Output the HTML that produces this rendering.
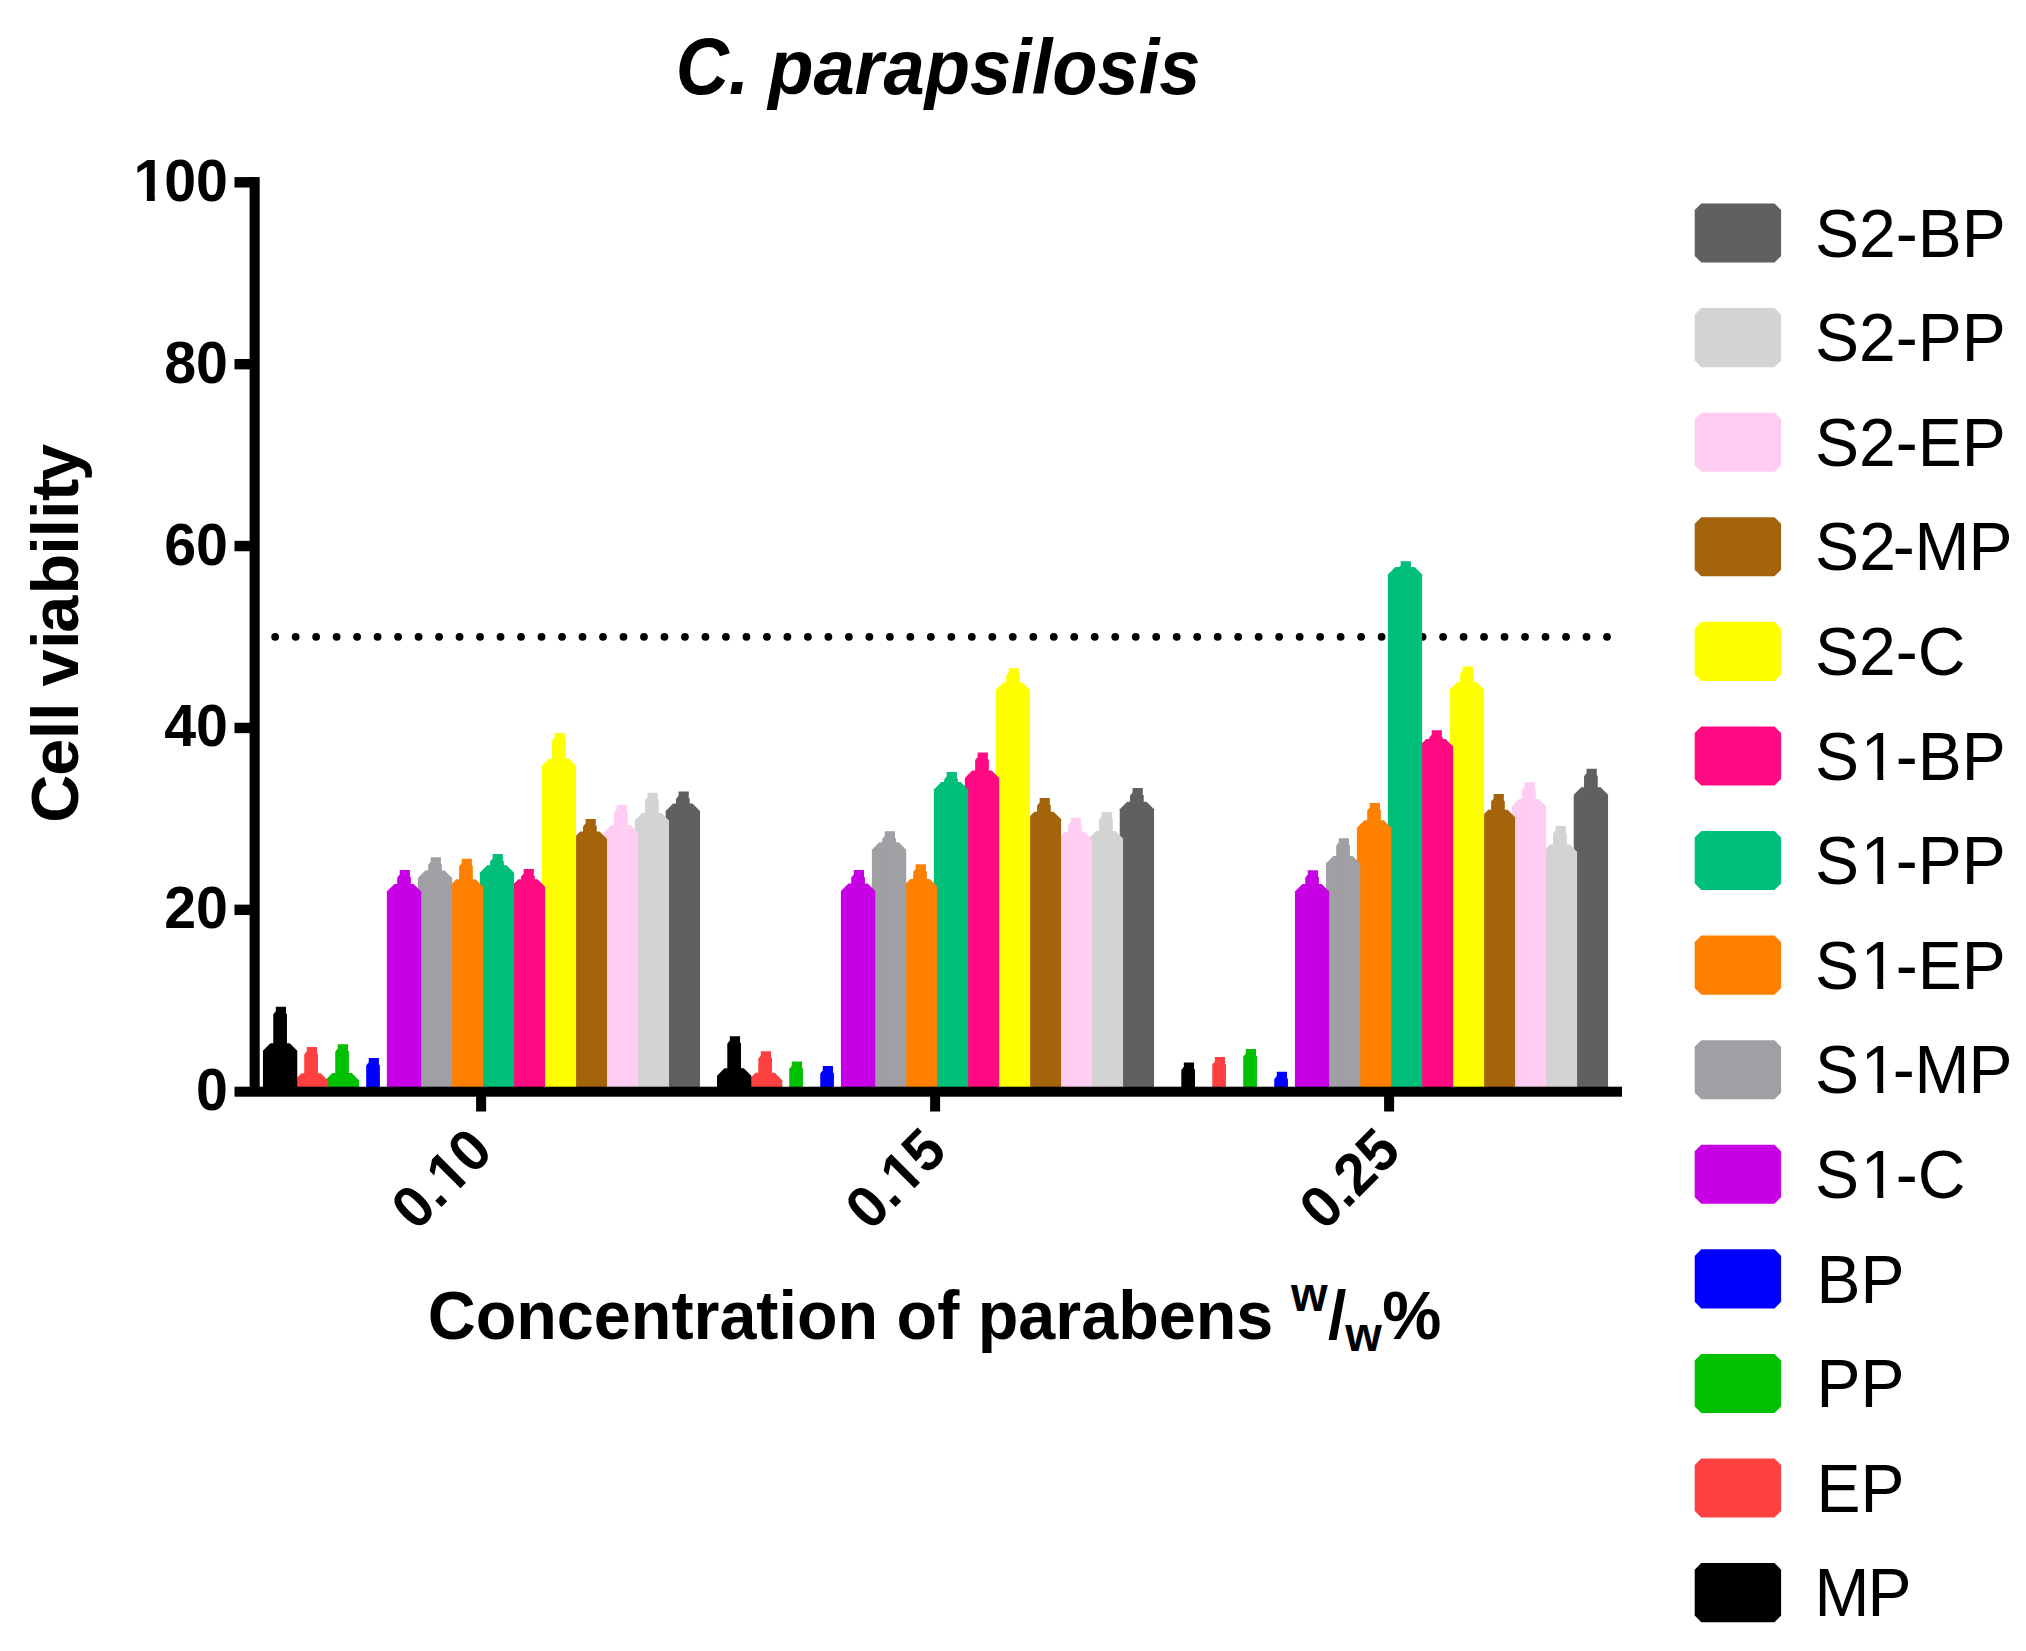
<!DOCTYPE html>
<html lang="en"><head><meta charset="utf-8"><title>C. parapsilosis</title>
<style>html,body{margin:0;padding:0;background:#fff}body{width:2026px;height:1651px;overflow:hidden}svg{display:block}text{font-family:"Liberation Sans",sans-serif;fill:#000}.b{font-weight:bold}</style></head><body>
<svg width="2026" height="1651" viewBox="0 0 2026 1651">
<rect width="2026" height="1651" fill="#fff"/>
<g fill="#000">
<circle cx="275.15" cy="636.8" r="3.9"/>
<circle cx="295.64" cy="636.8" r="3.9"/>
<circle cx="316.13" cy="636.8" r="3.9"/>
<circle cx="336.62" cy="636.8" r="3.9"/>
<circle cx="357.11" cy="636.8" r="3.9"/>
<circle cx="377.6" cy="636.8" r="3.9"/>
<circle cx="398.09" cy="636.8" r="3.9"/>
<circle cx="418.58" cy="636.8" r="3.9"/>
<circle cx="439.07" cy="636.8" r="3.9"/>
<circle cx="459.56" cy="636.8" r="3.9"/>
<circle cx="480.05" cy="636.8" r="3.9"/>
<circle cx="500.54" cy="636.8" r="3.9"/>
<circle cx="521.03" cy="636.8" r="3.9"/>
<circle cx="541.52" cy="636.8" r="3.9"/>
<circle cx="562.01" cy="636.8" r="3.9"/>
<circle cx="582.5" cy="636.8" r="3.9"/>
<circle cx="602.99" cy="636.8" r="3.9"/>
<circle cx="623.48" cy="636.8" r="3.9"/>
<circle cx="643.97" cy="636.8" r="3.9"/>
<circle cx="664.46" cy="636.8" r="3.9"/>
<circle cx="684.95" cy="636.8" r="3.9"/>
<circle cx="705.44" cy="636.8" r="3.9"/>
<circle cx="725.93" cy="636.8" r="3.9"/>
<circle cx="746.42" cy="636.8" r="3.9"/>
<circle cx="766.91" cy="636.8" r="3.9"/>
<circle cx="787.4" cy="636.8" r="3.9"/>
<circle cx="807.89" cy="636.8" r="3.9"/>
<circle cx="828.38" cy="636.8" r="3.9"/>
<circle cx="848.87" cy="636.8" r="3.9"/>
<circle cx="869.36" cy="636.8" r="3.9"/>
<circle cx="889.85" cy="636.8" r="3.9"/>
<circle cx="910.34" cy="636.8" r="3.9"/>
<circle cx="930.83" cy="636.8" r="3.9"/>
<circle cx="951.32" cy="636.8" r="3.9"/>
<circle cx="971.81" cy="636.8" r="3.9"/>
<circle cx="992.3" cy="636.8" r="3.9"/>
<circle cx="1012.79" cy="636.8" r="3.9"/>
<circle cx="1033.28" cy="636.8" r="3.9"/>
<circle cx="1053.77" cy="636.8" r="3.9"/>
<circle cx="1074.26" cy="636.8" r="3.9"/>
<circle cx="1094.75" cy="636.8" r="3.9"/>
<circle cx="1115.24" cy="636.8" r="3.9"/>
<circle cx="1135.73" cy="636.8" r="3.9"/>
<circle cx="1156.22" cy="636.8" r="3.9"/>
<circle cx="1176.71" cy="636.8" r="3.9"/>
<circle cx="1197.2" cy="636.8" r="3.9"/>
<circle cx="1217.69" cy="636.8" r="3.9"/>
<circle cx="1238.18" cy="636.8" r="3.9"/>
<circle cx="1258.67" cy="636.8" r="3.9"/>
<circle cx="1279.16" cy="636.8" r="3.9"/>
<circle cx="1299.65" cy="636.8" r="3.9"/>
<circle cx="1320.14" cy="636.8" r="3.9"/>
<circle cx="1340.63" cy="636.8" r="3.9"/>
<circle cx="1361.12" cy="636.8" r="3.9"/>
<circle cx="1381.61" cy="636.8" r="3.9"/>
<circle cx="1402.1" cy="636.8" r="3.9"/>
<circle cx="1422.59" cy="636.8" r="3.9"/>
<circle cx="1443.08" cy="636.8" r="3.9"/>
<circle cx="1463.57" cy="636.8" r="3.9"/>
<circle cx="1484.06" cy="636.8" r="3.9"/>
<circle cx="1504.55" cy="636.8" r="3.9"/>
<circle cx="1525.04" cy="636.8" r="3.9"/>
<circle cx="1545.53" cy="636.8" r="3.9"/>
<circle cx="1566.02" cy="636.8" r="3.9"/>
<circle cx="1586.51" cy="636.8" r="3.9"/>
<circle cx="1607" cy="636.8" r="3.9"/>
</g>
<g>
<polygon fill="#606060" points="665.69,1091 665.69,811.1 673.19,803.6 692.49,803.6 699.99,811.1 699.99,1091"/>
<polygon fill="#606060" points="675.99,1091 675.99,798.9 678.54,795.8 678.54,791.4 688.74,791.4 688.74,798.3 689.69,798.3 689.69,1091"/>
<polygon fill="#D3D3D3" points="634.71,1091 634.71,820.6 642.21,813.1 661.51,813.1 669.01,820.6 669.01,1091"/>
<polygon fill="#D3D3D3" points="645.01,1091 645.01,800.2 647.56,797.1 647.56,792.7 657.76,792.7 657.76,799.6 658.71,799.6 658.71,1091"/>
<polygon fill="#FFCCF2" points="603.73,1091 603.73,832.4 611.23,824.9 630.53,824.9 638.03,832.4 638.03,1091"/>
<polygon fill="#FFCCF2" points="614.03,1091 614.03,812.6 616.58,809.5 616.58,805.1 626.78,805.1 626.78,812 627.73,812 627.73,1091"/>
<polygon fill="#A3640C" points="572.75,1091 572.75,839.1 580.25,831.6 599.55,831.6 607.05,839.1 607.05,1091"/>
<polygon fill="#A3640C" points="583.05,1091 583.05,826.4 585.6,823.3 585.6,818.9 595.8,818.9 595.8,825.8 596.75,825.8 596.75,1091"/>
<polygon fill="#FFFF00" points="541.77,1091 541.77,765.9 549.27,758.4 568.57,758.4 576.07,765.9 576.07,1091"/>
<polygon fill="#FFFF00" points="552.07,1091 552.07,740.6 554.62,737.5 554.62,733.1 564.82,733.1 564.82,740 565.77,740 565.77,1091"/>
<polygon fill="#FF0A82" points="510.79,1091 510.79,886.8 518.29,879.3 537.59,879.3 545.09,886.8 545.09,1091"/>
<polygon fill="#FF0A82" points="521.09,1091 521.09,876.6 523.64,873.5 523.64,869.1 533.84,869.1 533.84,876 534.79,876 534.79,1091"/>
<polygon fill="#00BF78" points="479.81,1091 479.81,872.8 487.31,865.3 506.61,865.3 514.11,872.8 514.11,1091"/>
<polygon fill="#00BF78" points="490.11,1091 490.11,861.6 492.66,858.5 492.66,854.1 502.86,854.1 502.86,861 503.81,861 503.81,1091"/>
<polygon fill="#FF8000" points="448.83,1091 448.83,886.8 456.33,879.3 475.63,879.3 483.13,886.8 483.13,1091"/>
<polygon fill="#FF8000" points="459.13,1091 459.13,866.3 461.68,863.2 461.68,858.8 471.88,858.8 471.88,865.7 472.83,865.7 472.83,1091"/>
<polygon fill="#A0A0A4" points="417.85,1091 417.85,878.1 425.35,870.6 444.65,870.6 452.15,878.1 452.15,1091"/>
<polygon fill="#A0A0A4" points="428.15,1091 428.15,864.8 430.7,861.7 430.7,857.3 440.9,857.3 440.9,864.2 441.85,864.2 441.85,1091"/>
<polygon fill="#C800E6" points="386.87,1091 386.87,891.6 394.37,884.1 413.67,884.1 421.17,891.6 421.17,1091"/>
<polygon fill="#C800E6" points="397.17,1091 397.17,877.6 399.72,874.5 399.72,870.1 409.92,870.1 409.92,877 410.87,877 410.87,1091"/>
<polygon fill="#0000FF" points="366.19,1091 366.19,1065.4 368.74,1062.3 368.74,1057.9 378.94,1057.9 378.94,1064.8 379.89,1064.8 379.89,1091"/>
<polygon fill="#00C000" points="324.91,1091 324.91,1080.4 332.41,1072.9 351.71,1072.9 359.21,1080.4 359.21,1091"/>
<polygon fill="#00C000" points="335.21,1091 335.21,1051.7 337.76,1048.6 337.76,1044.2 347.96,1044.2 347.96,1051.1 348.91,1051.1 348.91,1091"/>
<polygon fill="#FF4040" points="293.93,1091 293.93,1080.7 301.43,1073.2 320.73,1073.2 328.23,1080.7 328.23,1091"/>
<polygon fill="#FF4040" points="304.23,1091 304.23,1054.4 306.78,1051.3 306.78,1046.9 316.98,1046.9 316.98,1053.8 317.93,1053.8 317.93,1091"/>
<polygon fill="#000000" points="262.95,1091 262.95,1050.7 270.45,1043.2 289.75,1043.2 297.25,1050.7 297.25,1091"/>
<polygon fill="#000000" points="273.25,1091 273.25,1014.3 275.8,1011.2 275.8,1006.8 286,1006.8 286,1013.7 286.95,1013.7 286.95,1091"/>
</g>
<g>
<polygon fill="#606060" points="1119.74,1091 1119.74,809.3 1127.24,801.8 1146.54,801.8 1154.04,809.3 1154.04,1091"/>
<polygon fill="#606060" points="1130.04,1091 1130.04,795.6 1132.59,792.5 1132.59,788.1 1142.79,788.1 1142.79,795 1143.74,795 1143.74,1091"/>
<polygon fill="#D3D3D3" points="1088.76,1091 1088.76,838.6 1096.26,831.1 1115.56,831.1 1123.06,838.6 1123.06,1091"/>
<polygon fill="#D3D3D3" points="1099.06,1091 1099.06,819.6 1101.61,816.5 1101.61,812.1 1111.81,812.1 1111.81,819 1112.76,819 1112.76,1091"/>
<polygon fill="#FFCCF2" points="1057.78,1091 1057.78,839.3 1065.28,831.8 1084.58,831.8 1092.08,839.3 1092.08,1091"/>
<polygon fill="#FFCCF2" points="1068.08,1091 1068.08,825.3 1070.63,822.2 1070.63,817.8 1080.83,817.8 1080.83,824.7 1081.78,824.7 1081.78,1091"/>
<polygon fill="#A3640C" points="1026.8,1091 1026.8,819.3 1034.3,811.8 1053.6,811.8 1061.1,819.3 1061.1,1091"/>
<polygon fill="#A3640C" points="1037.1,1091 1037.1,805.6 1039.65,802.5 1039.65,798.1 1049.85,798.1 1049.85,805 1050.8,805 1050.8,1091"/>
<polygon fill="#FFFF00" points="995.82,1091 995.82,690 1003.32,682.5 1022.62,682.5 1030.12,690 1030.12,1091"/>
<polygon fill="#FFFF00" points="1006.12,1091 1006.12,675.7 1008.67,672.6 1008.67,668.2 1018.87,668.2 1018.87,675.1 1019.82,675.1 1019.82,1091"/>
<polygon fill="#FF0A82" points="964.84,1091 964.84,778.1 972.34,770.6 991.64,770.6 999.14,778.1 999.14,1091"/>
<polygon fill="#FF0A82" points="975.14,1091 975.14,760.1 977.69,757 977.69,752.6 987.89,752.6 987.89,759.5 988.84,759.5 988.84,1091"/>
<polygon fill="#00BF78" points="933.86,1091 933.86,789.4 941.36,781.9 960.66,781.9 968.16,789.4 968.16,1091"/>
<polygon fill="#00BF78" points="944.16,1091 944.16,779.4 946.71,776.3 946.71,771.9 956.91,771.9 956.91,778.8 957.86,778.8 957.86,1091"/>
<polygon fill="#FF8000" points="902.88,1091 902.88,886.5 910.38,879 929.68,879 937.18,886.5 937.18,1091"/>
<polygon fill="#FF8000" points="913.18,1091 913.18,871.8 915.73,868.7 915.73,864.3 925.93,864.3 925.93,871.2 926.88,871.2 926.88,1091"/>
<polygon fill="#A0A0A4" points="871.9,1091 871.9,849.8 879.4,842.3 898.7,842.3 906.2,849.8 906.2,1091"/>
<polygon fill="#A0A0A4" points="882.2,1091 882.2,838.8 884.75,835.7 884.75,831.3 894.95,831.3 894.95,838.2 895.9,838.2 895.9,1091"/>
<polygon fill="#C800E6" points="840.92,1091 840.92,891 848.42,883.5 867.72,883.5 875.22,891 875.22,1091"/>
<polygon fill="#C800E6" points="851.22,1091 851.22,877.5 853.77,874.4 853.77,870 863.97,870 863.97,876.9 864.92,876.9 864.92,1091"/>
<polygon fill="#0000FF" points="820.24,1091 820.24,1073.4 822.79,1070.3 822.79,1065.9 832.99,1065.9 832.99,1072.8 833.94,1072.8 833.94,1091"/>
<polygon fill="#00C000" points="789.26,1091 789.26,1068.9 791.81,1065.8 791.81,1061.4 802.01,1061.4 802.01,1068.3 802.96,1068.3 802.96,1091"/>
<polygon fill="#FF4040" points="747.98,1091 747.98,1080.3 755.48,1072.8 774.78,1072.8 782.28,1080.3 782.28,1091"/>
<polygon fill="#FF4040" points="758.28,1091 758.28,1058.7 760.83,1055.6 760.83,1051.2 771.03,1051.2 771.03,1058.1 771.98,1058.1 771.98,1091"/>
<polygon fill="#000000" points="717,1091 717,1075.8 724.5,1068.3 743.8,1068.3 751.3,1075.8 751.3,1091"/>
<polygon fill="#000000" points="727.3,1091 727.3,1043.7 729.85,1040.6 729.85,1036.2 740.05,1036.2 740.05,1043.1 741,1043.1 741,1091"/>
</g>
<g>
<polygon fill="#606060" points="1573.74,1091 1573.74,794.8 1581.24,787.3 1600.54,787.3 1608.04,794.8 1608.04,1091"/>
<polygon fill="#606060" points="1584.04,1091 1584.04,776.3 1586.59,773.2 1586.59,768.8 1596.79,768.8 1596.79,775.7 1597.74,775.7 1597.74,1091"/>
<polygon fill="#D3D3D3" points="1542.76,1091 1542.76,851.7 1550.26,844.2 1569.56,844.2 1577.06,851.7 1577.06,1091"/>
<polygon fill="#D3D3D3" points="1553.06,1091 1553.06,833.5 1555.61,830.4 1555.61,826 1565.81,826 1565.81,832.9 1566.76,832.9 1566.76,1091"/>
<polygon fill="#FFCCF2" points="1511.78,1091 1511.78,806.5 1519.28,799 1538.58,799 1546.08,806.5 1546.08,1091"/>
<polygon fill="#FFCCF2" points="1522.08,1091 1522.08,789.8 1524.63,786.7 1524.63,782.3 1534.83,782.3 1534.83,789.2 1535.78,789.2 1535.78,1091"/>
<polygon fill="#A3640C" points="1480.8,1091 1480.8,817.2 1488.3,809.7 1507.6,809.7 1515.1,817.2 1515.1,1091"/>
<polygon fill="#A3640C" points="1491.1,1091 1491.1,801.5 1493.65,798.4 1493.65,794 1503.85,794 1503.85,800.9 1504.8,800.9 1504.8,1091"/>
<polygon fill="#FFFF00" points="1449.82,1091 1449.82,689.4 1457.32,681.9 1476.62,681.9 1484.12,689.4 1484.12,1091"/>
<polygon fill="#FFFF00" points="1460.12,1091 1460.12,673.9 1462.67,670.8 1462.67,666.4 1472.87,666.4 1472.87,673.3 1473.82,673.3 1473.82,1091"/>
<polygon fill="#FF0A82" points="1418.84,1091 1418.84,746.6 1426.34,739.1 1445.64,739.1 1453.14,746.6 1453.14,1091"/>
<polygon fill="#FF0A82" points="1429.14,1091 1429.14,737.8 1431.69,734.7 1431.69,730.3 1441.89,730.3 1441.89,737.2 1442.84,737.2 1442.84,1091"/>
<polygon fill="#00BF78" points="1387.86,1091 1387.86,574.4 1395.36,566.9 1414.66,566.9 1422.16,574.4 1422.16,1091"/>
<polygon fill="#00BF78" points="1398.16,1091 1398.16,568.7 1400.71,565.6 1400.71,561.2 1410.91,561.2 1410.91,568.1 1411.86,568.1 1411.86,1091"/>
<polygon fill="#FF8000" points="1356.88,1091 1356.88,827.7 1364.38,820.2 1383.68,820.2 1391.18,827.7 1391.18,1091"/>
<polygon fill="#FF8000" points="1367.18,1091 1367.18,810.5 1369.73,807.4 1369.73,803 1379.93,803 1379.93,809.9 1380.88,809.9 1380.88,1091"/>
<polygon fill="#A0A0A4" points="1325.9,1091 1325.9,863.4 1333.4,855.9 1352.7,855.9 1360.2,863.4 1360.2,1091"/>
<polygon fill="#A0A0A4" points="1336.2,1091 1336.2,845.7 1338.75,842.6 1338.75,838.2 1348.95,838.2 1348.95,845.1 1349.9,845.1 1349.9,1091"/>
<polygon fill="#C800E6" points="1294.92,1091 1294.92,891.4 1302.42,883.9 1321.72,883.9 1329.22,891.4 1329.22,1091"/>
<polygon fill="#C800E6" points="1305.22,1091 1305.22,877.7 1307.77,874.6 1307.77,870.2 1317.97,870.2 1317.97,877.1 1318.92,877.1 1318.92,1091"/>
<polygon fill="#0000FF" points="1274.24,1091 1274.24,1079.2 1276.79,1076.1 1276.79,1071.7 1286.99,1071.7 1286.99,1078.6 1287.94,1078.6 1287.94,1091"/>
<polygon fill="#00C000" points="1243.26,1091 1243.26,1056.6 1245.81,1053.5 1245.81,1049.1 1256.01,1049.1 1256.01,1056 1256.96,1056 1256.96,1091"/>
<polygon fill="#FF4040" points="1212.28,1091 1212.28,1064.6 1214.83,1061.5 1214.83,1057.1 1225.03,1057.1 1225.03,1064 1225.98,1064 1225.98,1091"/>
<polygon fill="#000000" points="1181.3,1091 1181.3,1069.9 1183.85,1066.8 1183.85,1062.4 1194.05,1062.4 1194.05,1069.3 1195,1069.3 1195,1091"/>
</g>
<g fill="#000">
<rect x="249.6" y="177.1" width="10.1" height="915"/>
<rect x="234.5" y="1086.7" width="1387.5" height="10"/>
<rect x="234.5" y="904.62" width="20" height="10.4"/>
<rect x="234.5" y="722.74" width="20" height="10.4"/>
<rect x="234.5" y="540.86" width="20" height="10.4"/>
<rect x="234.5" y="358.98" width="20" height="10.4"/>
<rect x="234.5" y="177.1" width="20" height="10.4"/>
<rect x="476.1" y="1090" width="10" height="21.5"/>
<rect x="930.1" y="1090" width="10" height="21.5"/>
<rect x="1384.1" y="1090" width="10" height="21.5"/>
</g>
<g transform="translate(227.9,1110.2) scale(1,1.03)"><text class="b" font-size="57.3" x="-31.868">0</text></g>
<g transform="translate(227.9,928.32) scale(1,1.03)"><text class="b" font-size="57.3" x="-63.735">20</text></g>
<g transform="translate(227.9,746.44) scale(1,1.03)"><text class="b" font-size="57.3" x="-63.735">40</text></g>
<g transform="translate(227.9,564.56) scale(1,1.03)"><text class="b" font-size="57.3" x="-63.735">60</text></g>
<g transform="translate(227.9,382.68) scale(1,1.03)"><text class="b" font-size="57.3" x="-63.735">80</text></g>
<g transform="translate(227.9,200.8) scale(1,1.03)"><clipPath id="c1"><path clip-rule="evenodd" d="M-400 -100H50V50H-400ZM-91.773 -7.107H-81.029V0.839H-91.773ZM-73.167 -7.107H-63.151V0.839H-73.167Z"/></clipPath><text class="b" font-size="57.3" x="-95.603" clip-path="url(#c1)" dx="1.2 -1.2 0">100</text></g>
<g transform="translate(495.1,1153.5) rotate(-45) scale(1,1.03)"><clipPath id="c2"><path clip-rule="evenodd" d="M-400 -100H50V50H-400ZM-59.905 -7.107H-49.161V0.839H-59.905ZM-41.299 -7.107H-31.283V0.839H-41.299Z"/></clipPath><text class="b" font-size="57.3" x="-111.522" clip-path="url(#c2)" dx="0 0 1.2 -1.2">0.10</text></g>
<g transform="translate(949.1,1153.5) rotate(-45) scale(1,1.03)"><clipPath id="c3"><path clip-rule="evenodd" d="M-400 -100H50V50H-400ZM-59.905 -7.107H-49.161V0.839H-59.905ZM-41.299 -7.107H-31.283V0.839H-41.299Z"/></clipPath><text class="b" font-size="57.3" x="-111.522" clip-path="url(#c3)" dx="0 0 1.2 -1.2">0.15</text></g>
<g transform="translate(1403.1,1153.5) rotate(-45) scale(1,1.03)"><text class="b" font-size="57.3" x="-111.522">0.25</text></g>
<text class="b" font-style="italic" font-size="74.1" transform="translate(0,94.2) scale(1,1.04)"><tspan x="675.7" font-size="76.6" textLength="73.6" lengthAdjust="spacingAndGlyphs">C.</tspan><tspan x="747.6"> parapsilosis</tspan></text>
<text class="b" font-size="66.67" transform="translate(78.2,818.7) rotate(-90)" x="-3.979 42.948 79.371 97.721 116.244 132.127 169.721 186.072 224.258 264.071 281.321 299.671 317.749 337.729">Cell viability</text>
<text class="b" font-size="66.47" transform="translate(0,1338.6) scale(1,1.02)"><tspan x="427.7" y="0">Concentration of parabens</tspan><tspan font-size="47" x="1291" y="-27.2">w</tspan><tspan x="1328" y="0">/</tspan><tspan font-size="47" x="1345.2" y="12.3">w</tspan><tspan x="1382.3" y="0">%</tspan></text>
<g>
<polygon fill="#606060" points="1701.3,203.5 1774.5,203.5 1781.1,210.1 1781.1,256 1774.5,262.6 1701.3,262.6 1694.7,256 1694.7,210.1"/>
<g transform="translate(1815.1,256.7) scale(1,1.045)"><text font-size="66">S2-BP</text></g>
<polygon fill="#D3D3D3" points="1701.3,308.08 1774.5,308.08 1781.1,314.68 1781.1,360.58 1774.5,367.18 1701.3,367.18 1694.7,360.58 1694.7,314.68"/>
<g transform="translate(1815.1,361.28) scale(1,1.045)"><text font-size="66">S2-PP</text></g>
<polygon fill="#FFCCF2" points="1701.3,412.66 1774.5,412.66 1781.1,419.26 1781.1,465.16 1774.5,471.76 1701.3,471.76 1694.7,465.16 1694.7,419.26"/>
<g transform="translate(1815.1,465.86) scale(1,1.045)"><text font-size="66">S2-EP</text></g>
<polygon fill="#A3640C" points="1701.3,517.24 1774.5,517.24 1781.1,523.84 1781.1,569.74 1774.5,576.34 1701.3,576.34 1694.7,569.74 1694.7,523.84"/>
<g transform="translate(1815.1,570.44) scale(1,1.045)"><text font-size="66" dx="0 0 -3.2 0 -1">S2-MP</text></g>
<polygon fill="#FFFF00" points="1701.3,621.82 1774.5,621.82 1781.1,628.42 1781.1,674.32 1774.5,680.92 1701.3,680.92 1694.7,674.32 1694.7,628.42"/>
<g transform="translate(1815.1,675.02) scale(1,1.045)"><text font-size="66">S2-C</text></g>
<polygon fill="#FF0A82" points="1701.3,726.4 1774.5,726.4 1781.1,733 1781.1,778.9 1774.5,785.5 1701.3,785.5 1694.7,778.9 1694.7,733"/>
<g transform="translate(1815.1,779.6) scale(1,1.045)"><clipPath id="c4"><path clip-rule="evenodd" d="M-20 -100H300V50H-20ZM49.621 -6.381H62.318V0.967H49.621ZM68.151 -6.381H80.333V0.967H68.151Z"/></clipPath><text font-size="66" clip-path="url(#c4)" dx="0 1.7 -1.7 0 0">S1-BP</text></g>
<polygon fill="#00BF78" points="1701.3,830.98 1774.5,830.98 1781.1,837.58 1781.1,883.48 1774.5,890.08 1701.3,890.08 1694.7,883.48 1694.7,837.58"/>
<g transform="translate(1815.1,884.18) scale(1,1.045)"><clipPath id="c5"><path clip-rule="evenodd" d="M-20 -100H300V50H-20ZM49.621 -6.381H62.318V0.967H49.621ZM68.151 -6.381H80.333V0.967H68.151Z"/></clipPath><text font-size="66" clip-path="url(#c5)" dx="0 1.7 -1.7 0 0">S1-PP</text></g>
<polygon fill="#FF8000" points="1701.3,935.56 1774.5,935.56 1781.1,942.16 1781.1,988.06 1774.5,994.66 1701.3,994.66 1694.7,988.06 1694.7,942.16"/>
<g transform="translate(1815.1,988.76) scale(1,1.045)"><clipPath id="c6"><path clip-rule="evenodd" d="M-20 -100H300V50H-20ZM49.621 -6.381H62.318V0.967H49.621ZM68.151 -6.381H80.333V0.967H68.151Z"/></clipPath><text font-size="66" clip-path="url(#c6)" dx="0 1.7 -1.7 0 0">S1-EP</text></g>
<polygon fill="#A0A0A4" points="1701.3,1040.14 1774.5,1040.14 1781.1,1046.74 1781.1,1092.64 1774.5,1099.24 1701.3,1099.24 1694.7,1092.64 1694.7,1046.74"/>
<g transform="translate(1815.1,1093.34) scale(1,1.045)"><clipPath id="c7"><path clip-rule="evenodd" d="M-20 -100H300V50H-20ZM49.621 -6.381H62.318V0.967H49.621ZM68.151 -6.381H80.333V0.967H68.151Z"/></clipPath><text font-size="66" clip-path="url(#c7)" dx="0 1.7 -4.9 0 -1">S1-MP</text></g>
<polygon fill="#C800E6" points="1701.3,1144.72 1774.5,1144.72 1781.1,1151.32 1781.1,1197.22 1774.5,1203.82 1701.3,1203.82 1694.7,1197.22 1694.7,1151.32"/>
<g transform="translate(1815.1,1197.92) scale(1,1.045)"><clipPath id="c8"><path clip-rule="evenodd" d="M-20 -100H300V50H-20ZM49.621 -6.381H62.318V0.967H49.621ZM68.151 -6.381H80.333V0.967H68.151Z"/></clipPath><text font-size="66" clip-path="url(#c8)" dx="0 1.7 -1.7 0">S1-C</text></g>
<polygon fill="#0000FF" points="1701.3,1249.3 1774.5,1249.3 1781.1,1255.9 1781.1,1301.8 1774.5,1308.4 1701.3,1308.4 1694.7,1301.8 1694.7,1255.9"/>
<g transform="translate(1816.6,1302.5) scale(1,1.045)"><text font-size="66">BP</text></g>
<polygon fill="#00C000" points="1701.3,1353.88 1774.5,1353.88 1781.1,1360.48 1781.1,1406.38 1774.5,1412.98 1701.3,1412.98 1694.7,1406.38 1694.7,1360.48"/>
<g transform="translate(1816.6,1407.08) scale(1,1.045)"><text font-size="66">PP</text></g>
<polygon fill="#FF4040" points="1701.3,1458.46 1774.5,1458.46 1781.1,1465.06 1781.1,1510.96 1774.5,1517.56 1701.3,1517.56 1694.7,1510.96 1694.7,1465.06"/>
<g transform="translate(1816.6,1511.66) scale(1,1.045)"><text font-size="66">EP</text></g>
<polygon fill="#000000" points="1701.3,1563.04 1774.5,1563.04 1781.1,1569.64 1781.1,1615.54 1774.5,1622.14 1701.3,1622.14 1694.7,1615.54 1694.7,1569.64"/>
<g transform="translate(1814.4,1616.24) scale(1,1.045)"><text font-size="66" dx="0 -1.8">MP</text></g>
</g>
</svg></body></html>
